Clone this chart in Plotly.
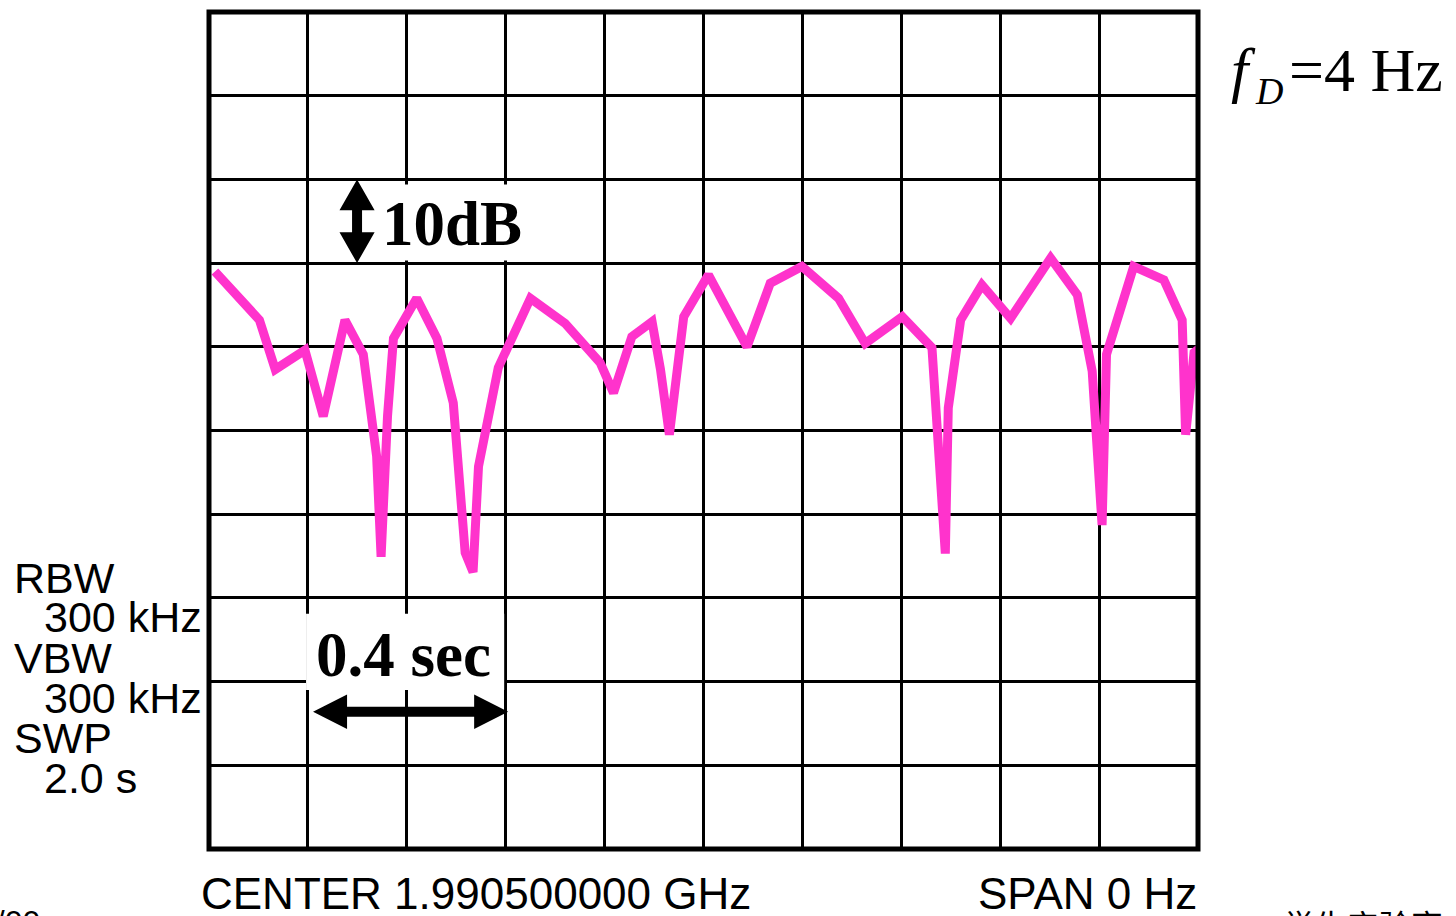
import plotly.graph_objects as go

# ---- data ----
t_sec = [0.012, 0.102, 0.134, 0.194, 0.231, 0.275, 0.312, 0.339, 0.348, 0.361,
         0.373, 0.420, 0.461, 0.494, 0.518, 0.534, 0.545, 0.585, 0.650, 0.720,
         0.791, 0.818, 0.855, 0.896, 0.913, 0.931, 0.960, 1.010, 1.088, 1.135,
         1.199, 1.273, 1.327, 1.402, 1.462, 1.489, 1.495, 1.520, 1.563, 1.621,
         1.702, 1.756, 1.786, 1.806, 1.815, 1.870, 1.931, 1.968, 1.975, 1.992,
         2.009]
level_db = [-31.0, -36.8, -42.7, -40.4, -48.3, -36.8, -40.9, -53.1, -65.1, -48.3,
            -39.0, -34.2, -39.0, -46.7, -64.6, -66.9, -54.3, -42.5, -34.2, -37.2,
            -41.9, -45.5, -38.8, -37.0, -42.7, -50.5, -36.4, -31.4, -40.0, -32.4,
            -30.4, -34.2, -39.6, -36.4, -40.1, -64.7, -47.3, -36.8, -32.6, -36.6,
            -29.4, -33.8, -42.9, -61.3, -40.9, -30.4, -32.0, -36.8, -50.5, -40.7,
            -39.9]

left_labels = ["RBW", "300 kHz", "VBW", "300 kHz", "SWP", "2.0 s"]
left_indent = [False, True, False, True, False, True]
center_label = "CENTER 1.990500000 GHz"
span_label = "SPAN 0 Hz"
fd_symbol = "<i>f</i>"
fd_sub = "<i>D</i>"
fd_value = "=4 Hz"
db_label = "<b>10dB</b>"
sec_label = "<b>0.4 sec</b>"

# ---- layout geometry (pixels) ----
W, H = 1456, 916
ML, MR, MT, MB = 209, 258, 12, 67
PL, PR, PT, PB = ML, W - MR, MT, H - MB


def paper_x(px):
    return (px - PL) / (PR - PL)


def paper_y(py):
    return (PB - py) / (PB - PT)


PINK = "#FF33CC"
SANS = "Liberation Sans, Arial, sans-serif"
SERIF = "Liberation Serif, Times New Roman, serif"

fig = go.Figure()
fig.add_trace(go.Scatter(x=t_sec, y=level_db, mode="lines",
                         line=dict(color=PINK, width=9), hoverinfo="skip"))

axis_common = dict(showgrid=True, gridcolor="black", gridwidth=3, zeroline=False,
                   showline=False, ticks="", showticklabels=False, fixedrange=True)
fig.update_xaxes(range=[0, 2.0], dtick=0.2, tick0=0, **axis_common)
fig.update_yaxes(range=[-100, 0], dtick=10, tick0=0, **axis_common)

shapes = []
# white boxes that hide the grid behind the labels
shapes.append(dict(type="rect", xref="x", yref="y", x0=0.346, x1=0.637, y0=-20.6, y1=-29.7,
                   fillcolor="white", line=dict(width=0), layer="above"))
shapes.append(dict(type="rect", xref="x", yref="y", x0=0.1963, x1=0.5969, y0=-71.9, y1=-81.0,
                   fillcolor="white", line=dict(width=0), layer="above"))
# frame
shapes.append(dict(type="rect", xref="paper", yref="paper", x0=0, x1=1, y0=0, y1=1,
                   line=dict(color="black", width=5), layer="above"))

# vertical double arrow (10 dB)
xc, hw, sw = 0.2994, 0.0355, 0.0101
ytop, ybot, hl = -20.0, -30.0, 3.7
p = (f"M {xc},{ytop} L {xc+hw},{ytop-hl} L {xc+sw},{ytop-hl} L {xc+sw},{ybot+hl} "
     f"L {xc+hw},{ybot+hl} L {xc},{ybot} L {xc-hw},{ybot+hl} L {xc-sw},{ybot+hl} "
     f"L {xc-sw},{ytop-hl} L {xc-hw},{ytop-hl} Z")
shapes.append(dict(type="path", xref="x", yref="y", path=p, fillcolor="black",
                   line=dict(width=0), layer="above"))

# horizontal double arrow (0.4 sec)
yc, hh, st = -83.6, 2.05, 0.6
xl, xr, hlx = 0.2104, 0.605, 0.0688
p2 = (f"M {xl},{yc} L {xl+hlx},{yc+hh} L {xl+hlx},{yc+st} L {xr-hlx},{yc+st} "
      f"L {xr-hlx},{yc+hh} L {xr},{yc} L {xr-hlx},{yc-hh} L {xr-hlx},{yc-st} "
      f"L {xl+hlx},{yc-st} L {xl+hlx},{yc-hh} Z")
shapes.append(dict(type="path", xref="x", yref="y", path=p2, fillcolor="black",
                   line=dict(width=0), layer="above"))

annotations = []


def txt(text, px, py, size, family, xanchor="left", color="black"):
    annotations.append(dict(text=text, xref="paper", yref="paper", x=paper_x(px),
                            y=paper_y(py), xanchor=xanchor, yanchor="middle",
                            showarrow=False, font=dict(size=size, family=family, color=color)))


txt(db_label, 380, 224, 63, SERIF)
txt(sec_label, 403, 655, 63, SERIF, xanchor="center")
txt(fd_symbol, 1229, 69.5, 62, SERIF)
txt(fd_sub, 1253, 91.5, 38, SERIF)
txt(fd_value, 1287, 69.5, 62, SERIF)

ys = [577.5, 617.5, 658, 697.5, 738, 778]
for lab, ind, yy in zip(left_labels, left_indent, ys):
    txt(lab, 42 if ind else 12, yy, 43, SANS)

txt(center_label, 199, 893.5, 44, SANS)
txt(span_label, 1199, 893.5, 44, SANS, xanchor="right")

# partially visible page text at the bottom edge
txt("1/00", 42, 922, 32, SANS, xanchor="right")
txt("学生实验室", 1281, 924, 32, "Noto Sans CJK SC")

fig.update_layout(width=W, height=H, margin=dict(l=ML, r=MR, t=MT, b=MB, pad=0),
                  paper_bgcolor="white", plot_bgcolor="white", showlegend=False,
                  shapes=shapes, annotations=annotations)

fig.write_html("out.html", config={"displayModeBar": False})
